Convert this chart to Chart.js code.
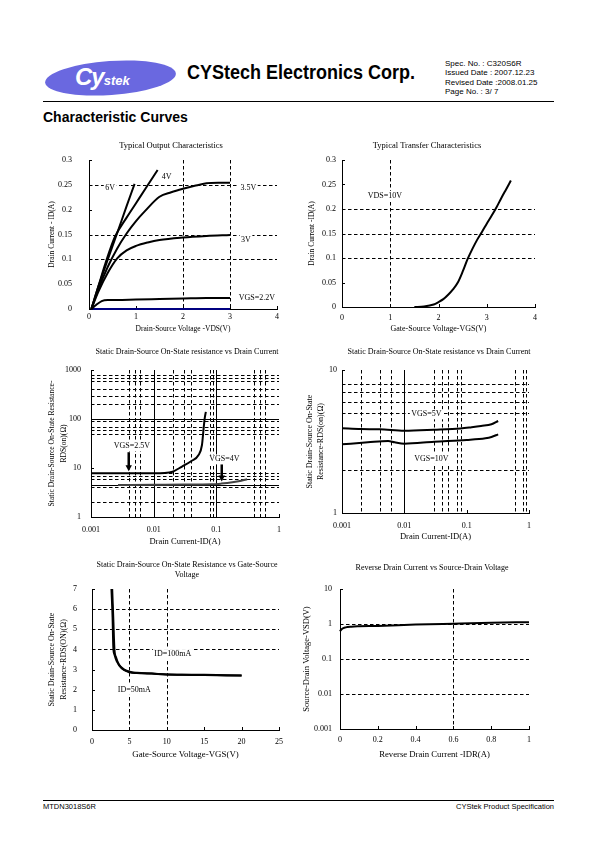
<!DOCTYPE html>
<html><head><meta charset="utf-8">
<script src="https://cdn.jsdelivr.net/npm/chart.js@4.4.1/dist/chart.umd.min.js"></script>
<style>
html,body{margin:0;padding:0;background:#fff;}
body{width:595px;height:842px;position:relative;overflow:hidden;font-family:"Liberation Sans",Arial,sans-serif;color:#000;}
.a{position:absolute;white-space:nowrap;}
canvas{position:absolute;}
</style></head><body>
<div class="a" style="left:45px;top:61px;width:131px;height:34px;border-radius:50%;background:#6a68e0;transform:rotate(-4deg)"></div>
<div class="a" style="left:75px;top:62px;color:#fff;font-weight:bold;font-style:italic;line-height:30px"><span style="font-size:24px;letter-spacing:-1px">Cy</span><span style="font-size:13px">stek</span></div>
<div class="a" style="left:187px;top:61px;font:bold 20px 'Liberation Sans';transform:scaleX(0.9);transform-origin:0 0">CYStech Electronics Corp.</div>
<div class="a" style="left:445px;top:58.5px;font:8px/9.5px 'Liberation Sans'">Spec. No. : C320S6R<br>Issued Date : 2007.12.23<br>Revised Date :2008.01.25<br>Page No. : 3/ 7</div>
<div class="a" style="left:43px;top:101px;width:511px;border-top:1.5px solid #000"></div>
<div class="a" style="left:43px;top:109px;font:bold 14px/16px 'Liberation Sans'">Characteristic Curves</div>
<div class="a" style="left:43px;top:800px;width:511px;border-top:1px solid #000"></div>
<div class="a" style="left:43px;top:802px;font:7.5px/9px 'Liberation Sans'">MTDN3018S6R</div>
<div class="a" style="right:41px;top:802px;font:7.5px/9px 'Liberation Sans'">CYStek Product Specification</div>
<script>
// ---------- DATA ----------
// Typical Output Characteristics
const out_xTicks = [0, 1, 2, 3, 4];
const out_xLabels = ["0", "1", "2", "3", "4"];
const out_yTicks = [0, 0.05, 0.1, 0.15, 0.2, 0.25, 0.3];
const out_yLabels = ["0", "0.05", "0.1", "0.15", "0.2", "0.25", "0.3"];
const out_vds_base = [0.05, 3.0];
const out_id_base = [0, 0];
const out_vds_6v = [0.05, 0.2, 0.4, 0.6, 0.8, 0.97];
const out_id_6v = [0, 0.045, 0.1, 0.153, 0.207, 0.252];
const out_vds_4v = [0.05, 0.2, 0.35, 0.55, 0.8, 1.0, 1.2, 1.46];
const out_id_4v = [0, 0.046, 0.092, 0.145, 0.184, 0.213, 0.242, 0.28];
const out_vds_35v = [0.05, 0.2, 0.4, 0.6, 0.8, 1.0, 1.2, 1.5, 1.75, 2.0, 2.25, 2.5, 2.75, 3.0];
const out_id_35v = [0, 0.04, 0.085, 0.122, 0.152, 0.177, 0.198, 0.226, 0.235, 0.242, 0.248, 0.253, 0.254, 0.254];
const out_vds_3v = [0.05, 0.2, 0.4, 0.6, 0.8, 1.0, 1.25, 1.5, 2.0, 2.5, 3.0];
const out_id_3v = [0, 0.035, 0.073, 0.102, 0.118, 0.127, 0.134, 0.139, 0.144, 0.147, 0.149];
const out_vds_22v = [0.05, 0.15, 0.27, 0.4, 0.6, 1.0, 1.5, 2.0, 2.5, 3.0];
const out_id_22v = [0, 0.008, 0.016, 0.018, 0.018, 0.019, 0.02, 0.021, 0.022, 0.022];

// Typical Transfer Characteristics
const tr_xTicks = [0, 1, 2, 3, 4];
const tr_xLabels = ["0", "1", "2", "3", "4"];
const tr_yTicks = [0, 0.05, 0.1, 0.15, 0.2, 0.25, 0.3];
const tr_yLabels = ["0", "0.05", "0.1", "0.15", "0.2", "0.25", "0.3"];
const tr_vgs = [1.5, 1.7, 1.9, 2.0, 2.1, 2.2, 2.3, 2.4, 2.5, 2.6, 2.7, 2.8, 2.9, 3.0, 3.1, 3.2, 3.3, 3.4, 3.5];
const tr_id = [0, 0.001, 0.005, 0.01, 0.016, 0.025, 0.036, 0.05, 0.072, 0.097, 0.118, 0.137, 0.153, 0.17, 0.186, 0.203, 0.222, 0.24, 0.258];

// RDS(on) vs ID (VGS 2.5V / 4V)
const r1_xTicks = [0.001, 0.01, 0.1, 1];
const r1_xLabels = ["0.001", "0.01", "0.1", "1"];
const r1_yTicks = [1, 10, 100, 1000];
const r1_yLabels = ["1", "10", "100", "1000"];
const r1_id_25v = [0.001, 0.003, 0.01, 0.015, 0.02, 0.028, 0.04, 0.052, 0.059, 0.062, 0.065, 0.068];
const r1_rds_25v = [7.8, 7.8, 7.8, 7.9, 8.4, 10.6, 13.9, 18.4, 29.5, 55, 100, 140];
const r1_id_4v = [0.0027, 0.01, 0.03, 0.085, 0.12, 0.18, 0.25, 0.31];
const r1_rds_4v = [4.5, 4.55, 4.6, 4.65, 4.8, 5.1, 5.5, 5.9];

// RDS(on) vs ID (VGS 5V / 10V)
const r2_xTicks = [0.001, 0.01, 0.1, 1];
const r2_xLabels = ["0.001", "0.01", "0.1", "1"];
const r2_yTicks = [1, 10];
const r2_yLabels = ["1", "10"];
const r2_id_5v = [0.001, 0.002, 0.004, 0.01, 0.03, 0.08, 0.12, 0.17, 0.25, 0.32];
const r2_rds_5v = [3.91, 3.86, 3.85, 3.76, 3.82, 3.9, 3.98, 4.06, 4.17, 4.4];
const r2_id_10v = [0.001, 0.0026, 0.0055, 0.007, 0.01, 0.03, 0.1, 0.2, 0.25, 0.32];
const r2_rds_10v = [3.02, 3.12, 3.19, 3.12, 3.05, 3.15, 3.24, 3.33, 3.4, 3.55];

// RDS(on) vs VGS
const rv_xTicks = [0, 5, 10, 15, 20, 25];
const rv_xLabels = ["0", "5", "10", "15", "20", "25"];
const rv_yTicks = [0, 1, 2, 3, 4, 5, 6, 7];
const rv_yLabels = ["0", "1", "2", "3", "4", "5", "6", "7"];
const rv_vgs_100 = [2.6, 2.75, 2.85, 3.0, 3.3, 4.0, 5.0, 6.0, 8.0, 10, 12, 15, 18, 20];
const rv_r_100 = [7.0, 5.6, 4.1, 3.75, 3.42, 3.05, 2.87, 2.83, 2.8, 2.75, 2.74, 2.73, 2.71, 2.7];
const rv_vgs_50 = [2.7, 2.85, 3.0, 3.2, 3.6, 4.3, 5.2, 6.0, 8.0, 10, 15, 20];
const rv_r_50 = [7.0, 5.5, 4.0, 3.62, 3.25, 3.0, 2.88, 2.84, 2.8, 2.76, 2.74, 2.71];

// Reverse drain current vs VSD
const sd_xTicks = [0, 0.2, 0.4, 0.6, 0.8, 1];
const sd_xLabels = ["0", "0.2", "0.4", "0.6", "0.8", "1"];
const sd_yTicks = [0.001, 0.01, 0.1, 1, 10];
const sd_yLabels = ["0.001", "0.01", "0.1", "1", "10"];
const sd_idr = [0, 0.01, 0.03, 0.06, 0.1, 0.2, 0.4, 0.6, 0.8, 1.0];
const sd_vsd = [0.62, 0.72, 0.8, 0.84, 0.86, 0.88, 0.96, 1.02, 1.08, 1.13];

// ---------- RENDER ----------
const SERIF = '"Liberation Serif","Times New Roman",serif';
Chart.defaults.font.family = SERIF;
Chart.defaults.color = '#000';
const DASH = [3.5, 2.5];
const zip = (xs, ys) => xs.map((x, i) => ({x: x, y: ys[i]}));

function decor(spec) {
  return {
    id: 'decor',
    beforeDatasetsDraw(chart) {
      const {ctx, chartArea: a, scales} = chart;
      const xs = scales.x, ys = scales.y;
      const gl = spec.grid || {};
      ctx.save();
      ctx.strokeStyle = '#000';
      ctx.lineWidth = 1;
      const seg = (x1, y1, x2, y2, dash) => {
        ctx.setLineDash(dash); ctx.beginPath(); ctx.moveTo(x1, y1); ctx.lineTo(x2, y2); ctx.stroke();
      };
      const px = v => Math.round(xs.getPixelForValue(v)) + 0.5;
      const py = v => Math.round(ys.getPixelForValue(v)) + 0.5;
      (gl.xDash || []).forEach(v => seg(px(v), a.top, px(v), a.bottom, DASH));
      (gl.xSolid || []).forEach(v => seg(px(v), a.top, px(v), a.bottom, []));
      (gl.yDash || []).forEach(v => seg(a.left, py(v), a.right, py(v), DASH));
      (gl.ySolid || []).forEach(v => seg(a.left, py(v), a.right, py(v), []));
      spec.x.ticks.forEach(v => seg(px(v), a.bottom, px(v), a.bottom - 3, []));
      spec.y.ticks.forEach(v => seg(a.left, py(v), a.left + 3, py(v), []));
      ctx.restore();
    },
    afterDatasetsDraw(chart) {
      const {ctx, scales} = chart;
      const xs = scales.x, ys = scales.y;
      ctx.save();
      (spec.arrows || []).forEach(ar => {
        const x = xs.getPixelForValue(ar.x), y0 = ys.getPixelForValue(ar.y0), y1 = ys.getPixelForValue(ar.y1);
        ctx.strokeStyle = '#000'; ctx.fillStyle = '#000'; ctx.lineWidth = 2.5; ctx.setLineDash([]);
        ctx.beginPath(); ctx.moveTo(x, y0); ctx.lineTo(x, y1 - 5); ctx.stroke();
        ctx.beginPath(); ctx.moveTo(x - 3.2, y1 - 6); ctx.lineTo(x + 3.2, y1 - 6); ctx.lineTo(x, y1); ctx.closePath(); ctx.fill();
      });
      ctx.font = '8px ' + SERIF;
      ctx.textAlign = 'center';
      ctx.textBaseline = 'middle';
      (spec.labels || []).forEach(lb => {
        const x = xs.getPixelForValue(lb.x), y = ys.getPixelForValue(lb.y);
        const w = ctx.measureText(lb.t).width;
        ctx.fillStyle = '#fff';
        ctx.fillRect(x - w / 2 - 1.5, y - 5, w + 3, 10);
        ctx.fillStyle = '#000';
        ctx.fillText(lb.t, x, y);
      });
      ctx.restore();
    }
  };
}

function axis(ax, pos, extra) {
  return Object.assign({
    type: ax.type, position: pos, min: ax.min, max: ax.max,
    afterBuildTicks: s => { s.ticks = ax.ticks.map(v => ({value: v})); },
    grid: {display: false, drawTicks: false},
    border: {display: true, color: '#000', width: 1},
  }, extra);
}

function build(g, spec) {
  const yLH = g.yTitleLH || g.yTitleSize * 1.2;
  const L = Math.floor(Math.min(g.x1, 2 * g.titleX - g.x2, g.yTitleX - yLH / 2 - 3, g.yTickRight - 28));
  const W = Math.round(2 * (g.titleX - L));
  const Wr = L + W - g.x2;
  const tLH = g.titleLH || g.titleSize * 1.2;
  const nT = Array.isArray(spec.title) ? spec.title.length : 1;
  const T = Math.floor(g.titleY - tLH / 2 - 2);
  const tPadTop = g.titleY - tLH / 2 - T;
  const tPadBottom = g.y1 - T - tPadTop - tLH * nT;
  const xtLH = g.xTitleSize * 1.2;
  const Hx = g.xTitleY - g.y2 + xtLH / 2;
  const H = Math.ceil(g.y2 + Hx + 3 - T);
  const padB = T + H - (g.y2 + Hx);
  const cv = document.createElement('canvas');
  cv.width = W; cv.height = H;
  cv.style.left = L + 'px'; cv.style.top = T + 'px';
  cv.style.width = W + 'px'; cv.style.height = H + 'px';
  document.body.appendChild(cv);
  new Chart(cv, {
    type: 'scatter',
    data: {
      datasets: spec.series.map(d => ({
        data: zip(d.x, d.y), borderColor: d.color || '#000', borderWidth: d.width || 2,
        showLine: true, pointRadius: 0, fill: false, cubicInterpolationMode: 'monotone', clip: 6
      }))
    },
    options: {
      responsive: false, animation: false, devicePixelRatio: 1, events: [],
      layout: {padding: {left: 0, right: 0, top: 0, bottom: padB}},
      plugins: {
        legend: {display: false}, tooltip: {enabled: false},
        title: {display: true, text: spec.title, color: '#000',
          font: {family: SERIF, size: g.titleSize, weight: 'normal', lineHeight: tLH + 'px'},
          padding: {top: tPadTop, bottom: tPadBottom}}
      },
      scales: {
        x: axis(spec.x, 'bottom', {
          afterFit: s => { s.height = Hx; },
          ticks: {color: '#000', font: {family: SERIF, size: 8}, padding: g.xTickY - g.y2 - 4.8,
            maxRotation: 0, autoSkip: false, callback: (v, i) => spec.x.labels[i]},
          title: {display: true, text: spec.x.title, color: '#000',
            font: {family: SERIF, size: g.xTitleSize}, padding: {top: 0, bottom: 0}}
        }),
        y: axis(spec.y, 'left', {
          afterFit: s => { s.width = g.x1 - L; },
          ticks: {color: '#000', font: {family: SERIF, size: 8}, padding: g.x1 - g.yTickRight,
            autoSkip: false, callback: (v, i) => spec.y.labels[i]},
          title: {display: true, text: spec.y.title, color: '#000',
            font: {family: SERIF, size: g.yTitleSize, lineHeight: yLH + 'px'},
            padding: {top: g.yTitleX - L - yLH / 2, bottom: 0}}
        }),
        yR: {type: 'linear', position: 'right', display: true,
          grid: {display: false, drawTicks: false}, border: {display: false},
          ticks: {display: false}, afterFit: s => { s.width = Wr; }}
      }
    },
    plugins: [decor(spec)]
  });
}

build({x1: 89, y1: 160, x2: 277, y2: 309, titleX: 171, titleY: 146, titleSize: 8.5,
  yTitleX: 52, yTitleSize: 7.5, yTickRight: 72, xTickY: 317, xTitleY: 329, xTitleSize: 7.5}, {
  title: 'Typical Output Characteristics',
  x: {type: 'linear', min: 0, max: 4, ticks: out_xTicks, labels: out_xLabels, title: 'Drain-Source Voltage -VDS(V)'},
  y: {type: 'linear', min: 0, max: 0.3, ticks: out_yTicks, labels: out_yLabels, title: 'Drain Current - ID(A)'},
  series: [
    {x: out_vds_6v, y: out_id_6v}, {x: out_vds_4v, y: out_id_4v}, {x: out_vds_35v, y: out_id_35v},
    {x: out_vds_3v, y: out_id_3v}, {x: out_vds_22v, y: out_id_22v},
    {x: out_vds_base, y: out_id_base, color: '#000080'}
  ],
  grid: {xDash: [2, 3], yDash: [0.1, 0.15, 0.25]},
  labels: [{t: '6V', x: 0.45, y: 0.244}, {t: '4V', x: 1.65, y: 0.266}, {t: '3.5V', x: 3.39, y: 0.244},
    {t: '3V', x: 3.34, y: 0.139}, {t: 'VGS=2.2V', x: 3.57, y: 0.0215}]
});

build({x1: 342, y1: 160, x2: 535, y2: 307, titleX: 427, titleY: 146, titleSize: 8.5,
  yTitleX: 312, yTitleSize: 7.5, yTickRight: 336, xTickY: 318, xTitleY: 328.5, xTitleSize: 8}, {
  title: 'Typical Transfer Characteristics',
  x: {type: 'linear', min: 0, max: 4, ticks: tr_xTicks, labels: tr_xLabels, title: 'Gate-Source Voltage-VGS(V)'},
  y: {type: 'linear', min: 0, max: 0.3, ticks: tr_yTicks, labels: tr_yLabels, title: 'Drain Current -ID(A)'},
  series: [{x: tr_vgs, y: tr_id}],
  grid: {xDash: [1], yDash: [0.1, 0.15, 0.2]},
  labels: [{t: 'VDS=10V', x: 0.89, y: 0.227}]
});

build({x1: 91, y1: 370, x2: 279, y2: 517, titleX: 187, titleY: 352, titleSize: 8,
  yTitleX: 52, yTitleSize: 7.6, yTitleLH: 11.6, yTickRight: 81, xTickY: 530, xTitleY: 541.5, xTitleSize: 8.5}, {
  title: 'Static Drain-Source On-State resistance vs Drain Current',
  x: {type: 'logarithmic', min: 0.001, max: 1, ticks: r1_xTicks, labels: r1_xLabels, title: 'Drain Current-ID(A)'},
  y: {type: 'logarithmic', min: 1, max: 1000, ticks: r1_yTicks, labels: r1_yLabels,
    title: ['Static Drain-Source On-State Resistance-', 'RDS(on)(Ω)']},
  series: [{x: r1_id_25v, y: r1_rds_25v}, {x: r1_id_4v, y: r1_rds_4v, color: '#444'}],
  grid: {xDash: [0.004, 0.005, 0.006, 0.02, 0.03, 0.04, 0.08, 0.09, 0.4, 0.5, 0.6], xSolid: [0.01, 0.1],
    yDash: [2, 4, 6, 7, 8, 50, 60, 70, 90, 200, 300, 400, 600, 700, 800], ySolid: [4.6, 100]},
  labels: [{t: 'VGS=2.5V', x: 0.0045, y: 28}, {t: 'VGS=4V', x: 0.134, y: 15}],
  arrows: [{x: 0.004, y0: 21, y1: 8.6}, {x: 0.122, y0: 12, y1: 5.3}]
});

build({x1: 342, y1: 370, x2: 529, y2: 513, titleX: 439, titleY: 352, titleSize: 8,
  yTitleX: 310, yTitleSize: 8, yTitleLH: 11, yTickRight: 337, xTickY: 526, xTitleY: 537, xTitleSize: 8.5}, {
  title: 'Static Drain-Source On-State resistance vs Drain Current',
  x: {type: 'logarithmic', min: 0.001, max: 1, ticks: r2_xTicks, labels: r2_xLabels, title: 'Drain Current-ID(A)'},
  y: {type: 'logarithmic', min: 1, max: 10, ticks: r2_yTicks, labels: r2_yLabels,
    title: ['Static Drain-Source On-State', 'Resistance-RDS(on)(Ω)']},
  series: [{x: r2_id_5v, y: r2_rds_5v}, {x: r2_id_10v, y: r2_rds_10v}],
  grid: {xDash: [0.002, 0.004, 0.006, 0.03, 0.04, 0.05, 0.07, 0.08, 0.6, 0.8, 0.9], xSolid: [0.01],
    yDash: [2, 5, 6, 7, 8]},
  labels: [{t: 'VGS=5V', x: 0.0226, y: 4.9}, {t: 'VGS=10V', x: 0.0271, y: 2.39}]
});

build({x1: 92, y1: 589, x2: 279, y2: 730, titleX: 187, titleY: 564.5, titleSize: 8, titleLH: 10,
  yTitleX: 52, yTitleSize: 8, yTitleLH: 11.6, yTickRight: 77, xTickY: 742, xTitleY: 755, xTitleSize: 8.9}, {
  title: ['Static Drain-Source On-State Resistance vs Gate-Source', 'Voltage'],
  x: {type: 'linear', min: 0, max: 25, ticks: rv_xTicks, labels: rv_xLabels, title: 'Gate-Source Voltage-VGS(V)'},
  y: {type: 'linear', min: 0, max: 7, ticks: rv_yTicks, labels: rv_yLabels,
    title: ['Static Drain-Source On-State', 'Resistance-RDS(ON)(Ω)']},
  series: [{x: rv_vgs_100, y: rv_r_100}, {x: rv_vgs_50, y: rv_r_50}],
  grid: {xDash: [5, 10], yDash: [4, 5, 6]},
  labels: [{t: 'ID=100mA', x: 10.8, y: 3.77}, {t: 'ID=50mA', x: 5.66, y: 2.0}]
});

build({x1: 340, y1: 589, x2: 529, y2: 729, titleX: 432, titleY: 567.5, titleSize: 8,
  yTitleX: 307, yTitleSize: 8.5, yTickRight: 332, xTickY: 740, xTitleY: 755, xTitleSize: 8.7}, {
  title: 'Reverse Drain Current vs Source-Drain Voltage',
  x: {type: 'linear', min: 0, max: 1, ticks: sd_xTicks, labels: sd_xLabels, title: 'Reverse Drain Current -IDR(A)'},
  y: {type: 'logarithmic', min: 0.001, max: 10, ticks: sd_yTicks, labels: sd_yLabels, title: 'Source-Drain Voltage-VSD(V)'},
  series: [{x: sd_idr, y: sd_vsd}],
  grid: {xDash: [0.6], yDash: [0.01, 0.1, 1]}
});
</script>
</body></html>
